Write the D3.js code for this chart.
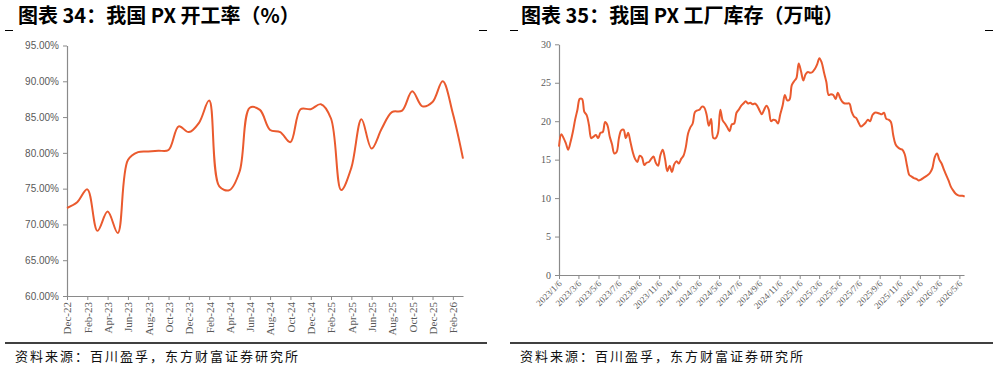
<!DOCTYPE html>
<html><head><meta charset="utf-8">
<script src="https://cdn.jsdelivr.net/npm/d3@7"></script>
<style>
html,body{margin:0;padding:0;background:#fff;}
svg{display:block;}
</style></head>
<body><svg id="chart" width="997" height="369"></svg>
<script>
// ---------- Data: chart 34 (PX operating rate, monthly) ----------
const pxMonths = ["Dec-22","Jan-23","Feb-23","Mar-23","Apr-23","May-23","Jun-23","Jul-23","Aug-23","Sep-23","Oct-23","Nov-23",
  "Dec-23","Jan-24","Feb-24","Mar-24","Apr-24","May-24","Jun-24","Jul-24","Aug-24","Sep-24","Oct-24","Nov-24",
  "Dec-24","Jan-25","Feb-25","Mar-25","Apr-25","May-25","Jun-25","Jul-25","Aug-25","Sep-25","Oct-25","Nov-25",
  "Dec-25","Jan-26","Feb-26","Mar-26"];
const pxRate = [72.3,73.1,74.9,69.1,71.8,68.8,79.0,80.1,80.2,80.3,80.4,83.7,
  82.9,84.2,87.3,75.3,74.8,77.4,86.3,86.0,83.2,82.9,81.5,86.1,
  86.1,86.8,84.8,74.8,77.9,84.7,80.6,83.4,85.7,85.9,88.6,86.5,
  87.1,90.0,85.5,79.2];
const pxTickLabels = ["Dec-22","Feb-23","Apr-23","Jun-23","Aug-23","Oct-23","Dec-23","Feb-24","Apr-24","Jun-24",
  "Aug-24","Oct-24","Dec-24","Feb-25","Apr-25","Jun-25","Aug-25","Oct-25","Dec-25","Feb-26"];
const pxRateTicks = [60,65,70,75,80,85,90,95];

// ---------- Data: chart 35 (PX factory inventory, weekly, 10k tons) ----------
const stockStart = "2023/1/6";
const stockValues = [
  16.7,18.3,17.8,17.1,16.3,17.3,18.6,20.2,21.5,22.9,22.9,21.2,20.8,19.5,17.8,18.0,18.2,17.8,18.5,18.6,
  19.9,19.5,18.0,17.0,15.8,16.0,17.8,18.8,18.9,17.8,18.5,17.3,16.0,15.1,14.7,15.5,15.3,14.3,14.6,14.7,
  15.1,15.4,14.6,14.2,15.6,16.3,15.1,13.5,14.2,13.4,14.4,14.8,14.5,15.1,15.5,16.6,18.4,19.2,19.7,21.2,
  21.4,21.5,21.9,21.8,20.9,19.4,20.3,17.8,17.8,18.5,21.5,20.1,19.7,19.2,18.7,19.6,19.7,21.1,21.5,22.0,
  22.3,22.6,22.3,22.4,22.2,22.3,22.0,21.4,20.9,21.5,22.0,21.5,20.0,20.2,20.1,19.7,20.9,22.0,23.4,22.7,
  22.8,24.7,25.2,25.6,27.5,26.5,25.3,26.1,26.4,26.3,26.4,26.8,27.4,28.2,27.6,26.3,25.1,23.4,23.5,23.4,
  22.9,23.7,23.0,22.5,22.3,22.3,22.3,21.2,20.6,20.4,19.8,19.3,19.5,19.8,20.2,20.0,20.8,21.1,21.1,21.0,
  20.9,21.1,20.3,20.2,19.9,18.2,17.0,16.6,16.4,16.3,15.7,14.2,13.0,12.8,12.6,12.5,12.3,12.4,12.6,12.8,
  13.0,13.3,13.9,15.3,15.8,15.0,14.5,13.7,13.0,12.3,11.5,11.0,10.6,10.4,10.3,10.3,10.2];
const stockTickLabels = ["2023/1/6","2023/3/6","2023/5/6","2023/7/6","2023/9/6","2023/11/6",
  "2024/1/6","2024/3/6","2024/5/6","2024/7/6","2024/9/6","2024/11/6",
  "2025/1/6","2025/3/6","2025/5/6","2025/7/6","2025/9/6","2025/11/6",
  "2026/1/6","2026/3/6","2026/5/6"];
const stockTicks = [0,5,10,15,20,25,30];
const stockAxisEnd = "2026/5/20";

const titles = ["图表 34：我国 PX 开工率（%）","图表 35：我国 PX 工厂库存（万吨）"];
const sourceText = "资料来源：百川盈孚，东方财富证券研究所";

// ---------- Drawing ----------
const LINE = "#EA5A2E", AXIS = "#8a8a8a", TXT = "#595959";
const svg = d3.select("#chart");
const parse = d3.timeParse("%Y/%m/%d");

// titles & decorations
[[18,5,487],[521,510,993]].forEach((p,i)=>{
  svg.append("text").attr("x",p[0]).attr("y",23)
    .attr("font-family","'Noto Sans CJK SC',sans-serif").attr("font-weight","bold")
    .attr("font-size",20).attr("fill","#000").text(titles[i]);
  svg.append("line").attr("x1",p[1]).attr("x2",p[1]+8).attr("y1",30.5).attr("y2",30.5).attr("stroke","#000");
  svg.append("line").attr("x1",p[2]-8).attr("x2",p[2]).attr("y1",30.5).attr("y2",30.5).attr("stroke","#000");
  svg.append("line").attr("x1",p[1]).attr("x2",p[2]).attr("y1",343).attr("y2",343).attr("stroke","#000").attr("stroke-width",1.3);
  svg.append("text").attr("x",p[1]+10).attr("y",361)
    .attr("font-family","'Noto Sans CJK SC',sans-serif").attr("font-size",13).attr("letter-spacing",2)
    .attr("fill","#111").text(sourceText);
});

function styleAxis(g){
  g.select(".domain").attr("stroke",AXIS).attr("stroke-width",1.2);
  g.selectAll(".tick line").attr("stroke",AXIS);
  g.selectAll(".tick text").attr("fill",TXT);
}

// ---- left chart ----
const xL = d3.scalePoint().domain(pxMonths).range([67,463]);
const yL = d3.scaleLinear().domain([60,95]).range([296,45.5]);

const gyL = svg.append("g").attr("transform","translate(67,0)")
  .call(d3.axisLeft(yL).tickValues(pxRateTicks).tickFormat(d=>d.toFixed(2)+"%").tickSize(4).tickSizeOuter(0));
gyL.selectAll(".tick text").attr("font-family","'Liberation Sans',Arial,sans-serif").attr("font-size",10).attr("x",-8);
styleAxis(gyL);

const gxL = svg.append("g").attr("transform","translate(0,296)")
  .call(d3.axisBottom(xL).tickValues(pxTickLabels).tickSize(4).tickSizeOuter(0));
gxL.selectAll(".tick text").attr("font-family","'Liberation Serif','Times New Roman',serif").attr("font-size",11)
  .attr("transform","rotate(-90)").attr("text-anchor","end").attr("x",-6).attr("y",0).attr("dy","0.35em");
styleAxis(gxL);

svg.append("path").datum(pxRate)
  .attr("fill","none").attr("stroke",LINE).attr("stroke-width",2)
  .attr("d",d3.line().x((d,i)=>xL(pxMonths[i])).y(d=>yL(d)).curve(d3.curveCatmullRom.alpha(0.5)));

// ---- right chart ----
const start = parse(stockStart);
const stockData = stockValues.map((v,i)=>({date:d3.timeDay.offset(start,7*i),value:v}));
const xR = d3.scaleTime().domain([start, parse(stockAxisEnd)]).range([559,964]);
const yR = d3.scaleLinear().domain([0,30]).range([275,44.3]);

const gyR = svg.append("g").attr("transform","translate(559,0)")
  .call(d3.axisLeft(yR).tickValues(stockTicks).tickSize(4).tickSizeOuter(0));
gyR.selectAll(".tick text").attr("font-family","'Liberation Serif','Times New Roman',serif").attr("font-size",10).attr("x",-8);
styleAxis(gyR);

const gxR = svg.append("g").attr("transform","translate(0,275)")
  .call(d3.axisBottom(xR).tickValues(stockTickLabels.map(parse)).tickFormat((d,i)=>stockTickLabels[i]).tickSize(4).tickSizeOuter(0));
gxR.selectAll(".tick text").attr("font-family","'Liberation Serif','Times New Roman',serif").attr("font-size",9)
  .attr("text-anchor","end").attr("y",0).attr("dy",0)
  .attr("transform","translate(3,9) rotate(-45)");
styleAxis(gxR);

svg.append("path").datum(stockData)
  .attr("fill","none").attr("stroke",LINE).attr("stroke-width",2)
  .attr("d",d3.line().x(d=>xR(d.date)).y(d=>yR(d.value)).curve(d3.curveCatmullRom.alpha(0.5)));
</script>
</body></html>
